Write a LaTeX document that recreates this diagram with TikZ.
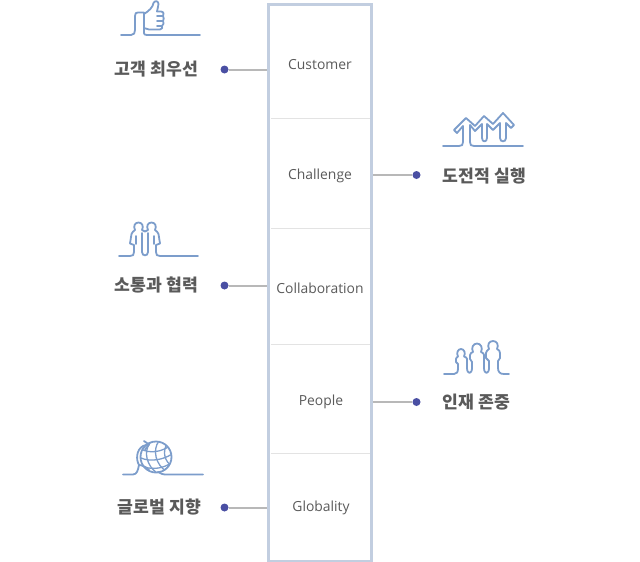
\documentclass[tikz,border=0pt]{standalone}
\usepackage{fontspec}
\newfontfamily\kr{Noto Sans CJK KR}
\setmainfont{Open Sans}
\definecolor{ic}{HTML}{7C9DCB}
\definecolor{dotc}{HTML}{4A4FA3}
\definecolor{conn}{HTML}{B8B8B8}
\definecolor{frame}{HTML}{C2CEE0}
\definecolor{divc}{HTML}{E3E3E3}
\definecolor{txt}{HTML}{5A5A5A}
\tikzset{
 iconline/.style={draw=ic,line width=1.8pt,line join=round,line cap=round,fill=none},
 dotn/.style={circle,fill=dotc,inner sep=0pt,minimum size=8pt},
 conline/.style={draw=conn,line width=2pt},
 kor/.style={font=\kr\fontsize{17.2}{19}\selectfont\bfseries,text=txt,inner sep=0pt,anchor=center},
 eng/.style={font=\fontsize{13.9}{15}\selectfont,text=txt,inner sep=0pt,anchor=center},
 divl/.style={draw=divc,line width=1pt},
}
\begin{document}
\begin{tikzpicture}[x=1pt,y=-1pt]
\useasboundingbox (0,0) rectangle (640,562);
% column
\node[draw=frame,line width=3pt,minimum width=103pt,minimum height=557pt,inner sep=0pt,anchor=center] (col) at (320,282.5) {};
\coordinate (d1a) at (270.5,118); \coordinate (d1b) at (370,118);
\coordinate (d2a) at (270.5,228); \coordinate (d2b) at (370,228);
\coordinate (d3a) at (270.5,344); \coordinate (d3b) at (370,344);
\coordinate (d4a) at (270.5,453); \coordinate (d4b) at (370,453);
\draw[divl] (d1a)--(d1b); \draw[divl] (d2a)--(d2b); \draw[divl] (d3a)--(d3b); \draw[divl] (d4a)--(d4b);
\node[eng] (n1) at (320,65) {Customer};
\node[eng] (n2) at (320,175.5) {Challenge};
\node[eng] (n3) at (320,288) {Collaboration};
\node[eng] (n4) at (321,401.5) {People};
\node[eng] (n5) at (321,508) {Globality};
% dots
\node[dotn] (p1) at (224.5,69.5) {};
\node[dotn] (p2) at (416.5,175) {};
\node[dotn] (p3) at (224.5,285.5) {};
\node[dotn] (p4) at (416.5,402) {};
\node[dotn] (p5) at (224.5,507.5) {};
\draw[conline] (p1) -- (p1 -| col.west);
\draw[conline] (p2) -- (p2 -| col.east);
\draw[conline] (p3) -- (p3 -| col.west);
\draw[conline] (p4) -- (p4 -| col.east);
\draw[conline] (p5) -- (p5 -| col.west);
% labels
\node[kor] (l1) at (156.5,69.5) {고객 최우선};
\node[kor] (l2) at (484.5,176.5) {도전적 실행};
\node[kor] (l3) at (156.5,285.5) {소통과 협력};
\node[kor] (l4) at (476.5,402) {인재 존중};
\node[kor] (l5) at (159.5,507.5) {글로벌 지향};
% thumb icon
\draw[iconline] (121,35) -- (131,35) .. controls (134,35) and (135,33) .. (135,30) -- (135,16) .. controls (135,13) and (136,12.5) .. (138,12.5) -- (144,12.5);
\draw[iconline] (144,13) -- (144,33) .. controls (144,34.5) and (145,35) .. (147,35) -- (200,35);
\draw[iconline] (144,14) .. controls (149,11) and (153,7) .. (153.5,3) .. controls (155,0) and (158.5,1) .. (158.5,4) .. controls (158.5,7) and (157,9) .. (157,11.5) -- (161,11.5) .. controls (164,11.5) and (164,15) .. (163,16) .. controls (164,17) and (164,20) .. (163,21) .. controls (164,22) and (164,25) .. (162,26) .. controls (163,27) and (162,29.5) .. (160,29.5) -- (149,29.5) .. controls (147,29.5) and (146,28) .. (144,28);
\draw[iconline] (157,16) -- (163,16) (157,21) -- (163,21) (157,26) -- (162,26);
% arrows icon
\draw[iconline] (443,146) -- (459,146) .. controls (462,146) and (463,145) .. (463,142) -- (463,126) -- (457,133) -- (454,130) -- (466,118) -- (475,126) -- (484,116) -- (493,124) -- (503,113) -- (514,125) -- (511,128) -- (506,123) -- (506,138) .. controls (506,142.5) and (500,142.5) .. (500,138) -- (500,123) -- (493,130) -- (487,124) -- (487,138) .. controls (487,142.5) and (482,142.5) .. (482,138) -- (482,124) -- (475,131) -- (470,125) -- (470,142) .. controls (470,145) and (471,146) .. (474,146) -- (523,146);
% two persons
\draw[iconline] (119,256) -- (130,256) .. controls (133,256) and (134,255) .. (134,252) -- (134,245) -- (130,243.5) -- (131.5,234) .. controls (132,232) and (134,231) .. (135,230) .. controls (133,226) and (135,222.5) .. (138.5,222.5) .. controls (142,222.5) and (144,226) .. (142,230) -- (145,231.5) -- (148,230) .. controls (146,226) and (148,222.5) .. (151.5,222.5) .. controls (155,222.5) and (157,226) .. (155,230) .. controls (156,231) and (158,232) .. (158.5,234) -- (160,243.5) -- (156,245) -- (156,252) .. controls (156,255) and (157,256) .. (160,256) -- (198,256);
\draw[iconline] (142,233) -- (142,252) .. controls (142,256.5) and (148,256.5) .. (148,252) -- (148,233);
\draw[iconline] (136,236) -- (136,244) (154,236) -- (154,244);
% three persons
\draw[iconline] (444,374) -- (454,374) .. controls (457,374) and (458,372) .. (458,368) -- (458,364) -- (456,362) -- (456,359) .. controls (456,358) and (457,357) .. (458,356.5) .. controls (456,353) and (458,349) .. (461,349) .. controls (464,349) and (466,353) .. (464,356.5) .. controls (466,357) and (467,358) .. (467,359) -- (467,368) .. controls (467,374.5) and (472,374.5) .. (472,368) -- (472,362) -- (470,359) -- (470,355) .. controls (470,353.5) and (472,352) .. (473,352) .. controls (471,348) and (473,343.5) .. (477,343.5) .. controls (481,343.5) and (483,348) .. (481,352) .. controls (483,352.5) and (484,354) .. (484,355) -- (484,368) .. controls (484,374.5) and (489,374.5) .. (489,368) -- (489,361) -- (486,358) -- (486,353) .. controls (486,351) and (488,350) .. (489,349) .. controls (487,345) and (489,341) .. (493,341) .. controls (497,341) and (499,345) .. (497,349) .. controls (499,350) and (500,351) .. (500,353) -- (500,358) -- (498,361) -- (498,368) .. controls (498,372) and (500,374) .. (504,374) -- (509,374);
% globe
\node[circle,draw=ic,line width=1.8pt,minimum size=31pt,inner sep=0pt] (gl) at (156,457) {};
\begin{scope}
\clip (156,457) circle (15);
\draw[iconline,line width=1.3pt] (141,449) .. controls (150,454) and (162,452) .. (171,445);
\draw[iconline,line width=1.3pt] (141,458) .. controls (150,462) and (163,460) .. (172,454);
\draw[iconline,line width=1.3pt] (145,467) .. controls (153,470) and (164,468) .. (171,463);
\draw[iconline,line width=1.3pt] (150,443) .. controls (143,452) and (147,466) .. (157,473);
\draw[iconline,line width=1.3pt] (159,441) .. controls (152,450) and (156,465) .. (166,471);
\draw[iconline,line width=1.3pt] (167,444) .. controls (162,452) and (165,462) .. (172,466);
\end{scope}
\draw[iconline] (123,474.5) -- (133,474.5) .. controls (137,474.5) and (138,470) .. (139,465) .. controls (136,460) and (136,450) .. (143,446) -- (148,444.5);
\draw[iconline] (144,441) -- (149,444.5) -- (145,449.5);
\draw[iconline] (139,465) .. controls (142,465) and (146,467) .. (149,470);
\draw[iconline] (158,472) .. controls (161,474) and (163,474.5) .. (167,474.5) -- (203,474.5);
\end{tikzpicture}
\end{document}
